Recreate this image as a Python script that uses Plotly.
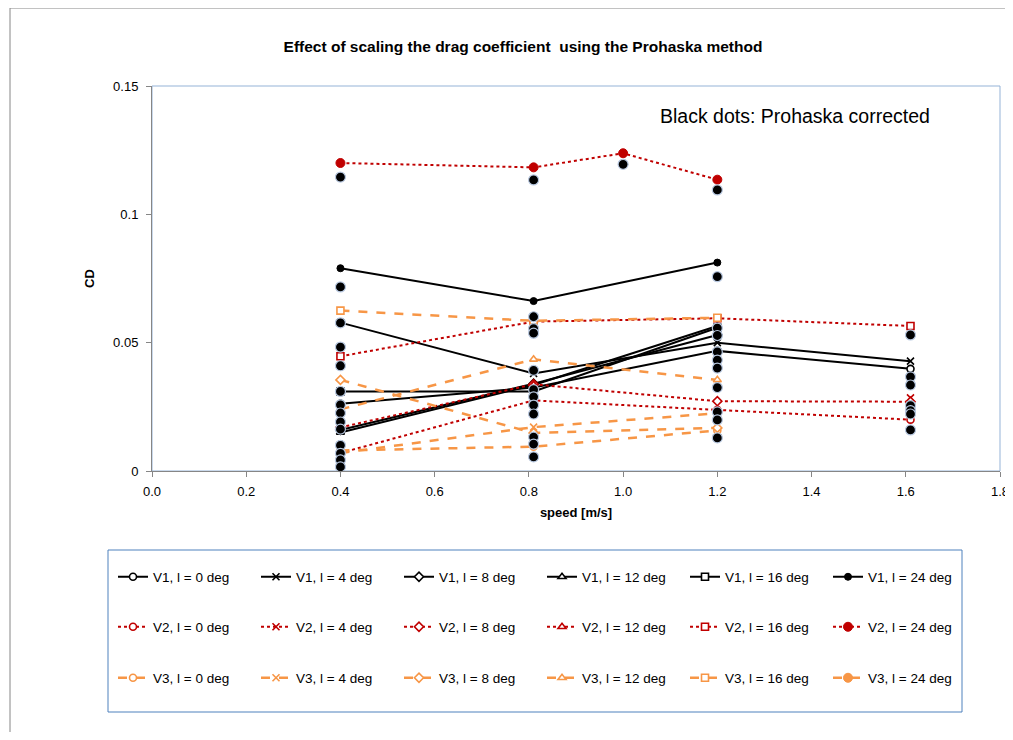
import plotly.graph_objects as go

# ---------------- data ----------------
speed4 = [0.4, 0.81, 1.2, 1.61]
speed3 = [0.4, 0.81, 1.2]

v1_0 = [0.0262, 0.0325, 0.0468, 0.0398]
v1_4 = [0.0578, 0.0380, 0.0500, 0.0428]
v1_8 = [0.0160, 0.0340, 0.0530]
v1_12 = [0.0150, 0.0335, 0.0565]
v1_16 = [0.0310, 0.0310, 0.0558]
v1_24 = [0.0790, 0.0662, 0.0812]

v2_0 = [0.0070, 0.0275, 0.0238, 0.0200]
v2_4 = [0.0285]
v2_4_speed = [1.61]
v2_8 = [0.0170, 0.0338, 0.0272, 0.0270]
v2_12 = [0.0336]
v2_12_speed = [0.81]
v2_16 = [0.0447, 0.0582, 0.0595, 0.0565]
v2_24 = [0.1200, 0.1183, 0.1238, 0.1135]
v2_24_speed = [0.4, 0.81, 1.0, 1.2]

v3_0 = [0.0080, 0.0095, 0.0158]
v3_4 = [0.0070, 0.0171, 0.0225]
v3_8 = [0.0355, 0.0148, 0.0168]
v3_12 = [0.0240, 0.0435, 0.0355]
v3_16 = [0.0625, 0.0585, 0.0597]
v3_24 = [None]          # no visible points in the chart
v3_24_speed = [None]

# Prohaska corrected values (black dots)
corr_040 = [0.1145, 0.0717, 0.0577, 0.0483, 0.0410, 0.0310, 0.0258, 0.0226,
            0.0191, 0.0163, 0.0100, 0.0069, 0.0043, 0.0016]
corr_081 = [0.1134, 0.0601, 0.0555, 0.0537, 0.0392, 0.0317, 0.0289, 0.0257,
            0.0222, 0.0132, 0.0105, 0.0055]
corr_100 = [0.1195]
corr_120 = [0.1095, 0.0757, 0.0557, 0.0528, 0.0464, 0.0432, 0.0401, 0.0325,
            0.0230, 0.0199, 0.0129]
corr_161 = [0.0530, 0.0367, 0.0335, 0.0255, 0.0235, 0.0222, 0.0160]

BLACK = "#000000"
RED = "#C00000"
ORANGE = "#F79646"

fig = go.Figure()

def add(name, x, y, color, dash, symbol, legend, filled=False, size=7, width=2):
    if symbol.startswith("x"):
        marker = dict(symbol="x-thin-open", size=size, color=color,
                      line=dict(color=color, width=1.6))
    elif filled:
        marker = dict(symbol=symbol, size=size, color=color,
                      line=dict(color=color, width=1))
    else:
        marker = dict(symbol=symbol, size=size, color="white",
                      line=dict(color=color, width=1.6))
    fig.add_trace(go.Scatter(
        x=x, y=y, name=name, mode="lines+markers",
        line=dict(color=color, dash=dash, width=width),
        marker=marker, legend=legend, cliponaxis=False))

add("V1, l = 0 deg", speed4, v1_0, BLACK, "solid", "circle", "legend")
add("V1, l = 4 deg", speed4, v1_4, BLACK, "solid", "x", "legend")
add("V1, l = 8 deg", speed3, v1_8, BLACK, "solid", "diamond", "legend")
add("V1, l = 12 deg", speed3, v1_12, BLACK, "solid", "triangle-up", "legend")
add("V1, l = 16 deg", speed3, v1_16, BLACK, "solid", "square", "legend")
add("V1, l = 24 deg", speed3, v1_24, BLACK, "solid", "circle", "legend", filled=True, size=7)

add("V2, l = 0 deg", speed4, v2_0, RED, "dot", "circle", "legend2")
add("V2, l = 4 deg", v2_4_speed, v2_4, RED, "dot", "x", "legend2")
add("V2, l = 8 deg", speed4, v2_8, RED, "dot", "diamond", "legend2")
add("V2, l = 12 deg", v2_12_speed, v2_12, RED, "dot", "triangle-up", "legend2")
add("V2, l = 16 deg", speed4, v2_16, RED, "dot", "square", "legend2")
add("V2, l = 24 deg", v2_24_speed, v2_24, RED, "dot", "circle", "legend2", filled=True, size=9)

add("V3, l = 0 deg", speed3, v3_0, ORANGE, "dash", "circle", "legend3", width=2.5)
add("V3, l = 4 deg", speed3, v3_4, ORANGE, "dash", "x", "legend3", width=2.5)
add("V3, l = 8 deg", speed3, v3_8, ORANGE, "dash", "diamond", "legend3", width=2.5)
add("V3, l = 12 deg", speed3, v3_12, ORANGE, "dash", "triangle-up", "legend3", width=2.5)
add("V3, l = 16 deg", speed3, v3_16, ORANGE, "dash", "square", "legend3", width=2.5)
add("V3, l = 24 deg", v3_24_speed, v3_24, ORANGE, "dash", "circle", "legend3",
    filled=True, size=9, width=2.5)

corr_x, corr_y = [], []
for sp, vals in [(0.4, corr_040), (0.81, corr_081), (1.0, corr_100),
                 (1.2, corr_120), (1.61, corr_161)]:
    corr_x += [sp] * len(vals)
    corr_y += vals
fig.add_trace(go.Scatter(
    x=corr_x, y=corr_y, mode="markers", showlegend=False, cliponaxis=False,
    marker=dict(symbol="circle", size=10, color="black",
                line=dict(color="#B8C8E0", width=1.2))))

# ---------------- layout ----------------
OFF = 8                      # page body margin (both sides)
W, H = 1013 - 2 * OFF, 740 - 2 * OFF
L, T = 152 - OFF, 86 - OFF
R = W - (1000 - OFF)
B = H - (471 - OFF)
pw, ph = W - L - R, H - T - B

def px_x(p):   # reference pixel -> paper x
    return (p - OFF - L) / pw

def px_y(p):   # reference pixel -> paper y
    return (H - B - (p - OFF)) / ph

FONT = "Liberation Sans, Arial, sans-serif"
leg_common = dict(orientation="h", xanchor="left", yanchor="middle",
                  entrywidth=98, entrywidthmode="pixels",
                  font=dict(family=FONT, size=13.5, color="black"),
                  bgcolor="rgba(0,0,0,0)", borderwidth=0)

fig.update_layout(
    width=W, height=H,
    margin=dict(l=L, r=R, t=T, b=B, autoexpand=False),
    paper_bgcolor="white", plot_bgcolor="white",
    font=dict(family=FONT, size=13, color="black"),
    title=dict(text="<b>Effect of scaling the drag coefficient  using the Prohaska method</b>",
               x=(523 - OFF) / W, xref="container", xanchor="center",
               y=1 - (47 - OFF) / H, yref="container", yanchor="middle",
               font=dict(family=FONT, size=15.5, color="black")),
    xaxis=dict(range=[0, 1.8], dtick=0.2, tick0=0, tickformat=".1f",
               showgrid=False, zeroline=False, showline=True, linecolor="#868686",
               linewidth=1, ticks="outside", ticklen=5, tickcolor="#868686",
               tickfont=dict(size=13), ticklabelstandoff=3, ticklabeloverflow="allow",
               automargin=False,
               title=dict(text="<b>speed [m/s]</b>", font=dict(size=13), standoff=10)),
    yaxis=dict(range=[0, 0.15], tickvals=[0, 0.05, 0.1, 0.15],
               ticktext=["0", "0.05", "0.1", "0.15"], automargin=False,
               showgrid=False, zeroline=False, showline=True, linecolor="#868686",
               linewidth=1, ticks="outside", ticklen=5, tickcolor="#868686",
               tickfont=dict(size=13), ticklabelstandoff=5,
               title=dict(text="<b>CD</b>", font=dict(size=13), standoff=15)),
    legend=dict(x=px_x(113), y=px_y(577), **leg_common),
    legend2=dict(x=px_x(113), y=px_y(627), **leg_common),
    legend3=dict(x=px_x(113), y=px_y(678), **leg_common),
    annotations=[dict(text="Black dots: Prohaska corrected", xref="paper", yref="paper",
                      x=px_x(932), y=px_y(116), xanchor="right", yanchor="middle",
                      showarrow=False, font=dict(family=FONT, size=19.5, color="black"))],
    shapes=[
        dict(type="rect", xref="paper", yref="paper", x0=0, x1=1, y0=0, y1=1,
             line=dict(color="#95B3D7", width=1), layer="below"),
        dict(type="rect", xref="paper", yref="paper",
             x0=px_x(108), x1=px_x(962), y0=px_y(712), y1=px_y(550),
             line=dict(color="#4F81BD", width=1)),
        dict(type="rect", xref="paper", yref="paper",
             x0=px_x(10), x1=px_x(1030), y0=px_y(760), y1=px_y(8),
             line=dict(color="#868686", width=1)),
    ],
)

fig.write_html("out.html")
